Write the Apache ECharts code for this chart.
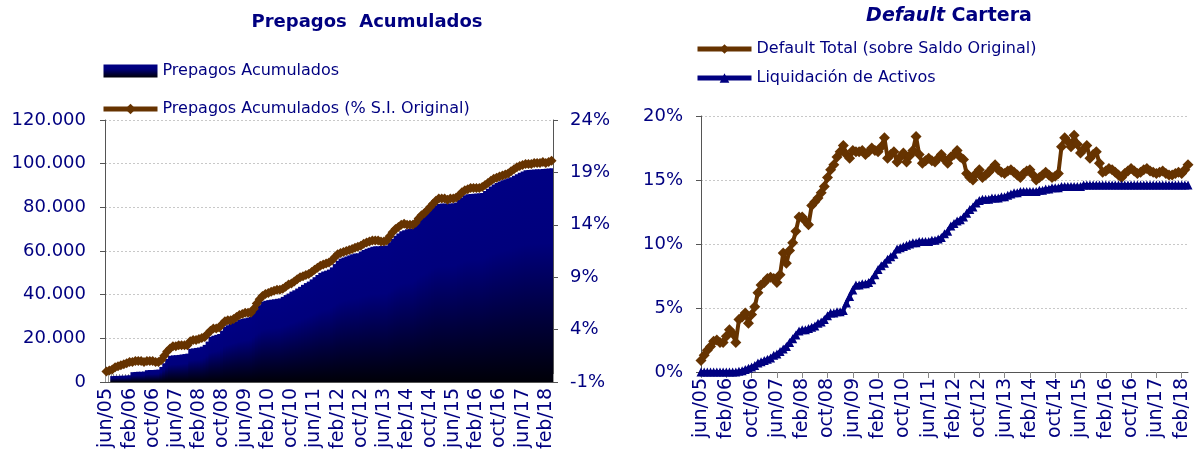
<!DOCTYPE html>
<html><head><meta charset="utf-8">
<script src="https://cdn.jsdelivr.net/npm/echarts@6/dist/echarts.min.js"></script>
<style>html,body{margin:0;padding:0;background:#fff;}#c{width:1195px;height:455px;}</style>
</head><body><div id="c"></div>
<script>
// ---- categories (monthly, jun/05 .. abr/18) ----
const monthNames = ['ene','feb','mar','abr','may','jun','jul','ago','sep','oct','nov','dic'];
const startYear = 2005, startMonth = 5, nMonths = 155;
const categories = [];
for (let i = 0; i < nMonths; i++) {
  const m = (startMonth + i) % 12;
  const y = startYear + Math.floor((startMonth + i) / 12);
  categories.push(monthNames[m] + '/' + String(y % 100).padStart(2, '0'));
}

// ---- Prepagos Acumulados (bars, left axis) ----
const prepagos = [
  0, 0, 2700, 2800, 2800, 2900, 2900, 3000, 3100, 4500,
  4600, 4700, 4700, 4800, 5400, 5500, 5500, 5600, 5700, 6900,
  8600, 10600, 12000, 12200, 12300, 12400, 12600, 12800, 13000, 15200,
  15400, 15600, 15800, 16200, 17000, 18500, 20700, 21200, 21600, 22000,
  23500, 25300, 26000, 26600, 27200, 27800, 28500, 28900, 29200, 29500,
  29900, 31500, 33600, 35200, 36800, 37200, 37500, 37700, 37900, 38100,
  38300, 39000, 39800, 40500, 41400, 42000, 42800, 43600, 44500, 45300,
  46000, 47000, 48000, 49000, 50000, 50600, 51000, 51500, 52500, 54000,
  55500, 56500, 57000, 57500, 58000, 58500, 58800, 59000, 59800, 60500,
  61000, 61500, 62000, 62200, 62200, 62300, 62400, 62500, 64000, 65500,
  67000, 68000, 69000, 69500, 70000, 70200, 70300, 71500, 73500, 75000,
  76000, 77200, 78500, 79800, 81000, 81500, 81700, 81700, 81800, 81800,
  81900, 82200, 83500, 84500, 85500, 86000, 86100, 86200, 86300, 86400,
  86600, 87500, 88500, 89500, 90500, 91200, 91800, 92400, 92900, 93300,
  93800, 94500, 95200, 95800, 96400, 97000, 97100, 97200, 97300, 97400,
  97500, 97600, 97700, 97800, 97900
];

// ---- Prepagos Acumulados (% S.I. Original), right axis ----
const prepagosPct = [
  0.0, 0.1, 0.2, 0.4, 0.5, 0.6, 0.7, 0.8, 0.9, 0.9,
  1.0, 1.0, 1.0, 0.9, 1.0, 1.0, 1.0, 0.9, 0.9, 1.1,
  1.5, 1.9, 2.2, 2.4, 2.4, 2.5, 2.5, 2.5, 2.5, 2.9,
  3.0, 3.0, 3.1, 3.2, 3.3, 3.6, 3.9, 4.1, 4.1, 4.2,
  4.5, 4.8, 4.9, 4.9, 5.0, 5.2, 5.4, 5.5, 5.6, 5.6,
  5.6, 6.0, 6.5, 6.9, 7.2, 7.4, 7.5, 7.6, 7.7, 7.8,
  7.8, 7.9, 8.1, 8.3, 8.4, 8.6, 8.8, 9.0, 9.1, 9.2,
  9.3, 9.5, 9.7, 9.9, 10.1, 10.2, 10.3, 10.4, 10.6, 10.9,
  11.2, 11.3, 11.4, 11.5, 11.6, 11.7, 11.8, 11.9, 12.0, 12.2,
  12.3, 12.4, 12.5, 12.5, 12.5, 12.4, 12.4, 12.5, 12.9, 13.3,
  13.6, 13.8, 14.0, 14.1, 14.0, 14.0, 14.0, 14.2, 14.6, 14.9,
  15.1, 15.4, 15.7, 16.0, 16.3, 16.5, 16.5, 16.5, 16.4, 16.5,
  16.5, 16.6, 16.8, 17.1, 17.3, 17.4, 17.5, 17.5, 17.5, 17.5,
  17.6, 17.8, 18.0, 18.2, 18.4, 18.5, 18.6, 18.7, 18.8, 18.9,
  19.1, 19.3, 19.5, 19.6, 19.7, 19.8, 19.8, 19.8, 19.9, 19.9,
  19.9, 20.0, 19.9, 20.0, 20.1
];

// ---- Default Total (sobre Saldo Original), % ----
const defaultTotal = [
  0.9, 1.3, 1.7, 2.0, 2.4, 2.5, 2.3, 2.3, 2.8, 3.3,
  3.0, 2.3, 4.1, 4.3, 4.6, 3.8, 4.5, 5.1, 6.2, 6.8,
  7.0, 7.3, 7.4, 7.3, 7.0, 7.6, 9.3, 8.5, 9.5, 10.1,
  11.0, 12.1, 12.1, 11.8, 11.5, 13.0, 13.3, 13.6, 14.0, 14.5,
  15.2, 15.8, 16.2, 16.8, 17.2, 17.7, 17.0, 16.7, 17.3, 17.2,
  17.2, 17.3, 17.0, 17.2, 17.5, 17.3, 17.2, 17.6, 18.3, 16.7,
  17.0, 17.2, 16.4, 16.8, 17.1, 16.4, 16.9, 17.3, 18.4, 17.0,
  16.3, 16.5, 16.7, 16.5, 16.4, 16.7, 17.0, 16.6, 16.3, 16.8,
  17.0, 17.3, 16.8, 16.6, 15.5, 15.2, 15.0, 15.5, 15.8, 15.2,
  15.4, 15.6, 15.9, 16.2, 15.8, 15.6, 15.5, 15.7, 15.8, 15.6,
  15.4, 15.2, 15.5, 15.7, 15.8, 15.4, 15.0, 15.2, 15.4, 15.6,
  15.4, 15.2, 15.3, 15.5, 17.6, 18.3, 18.0, 17.6, 18.5, 17.8,
  17.1, 17.4, 17.7, 16.7, 17.0, 17.2, 16.3, 15.6, 15.7, 15.9,
  15.8, 15.6, 15.4, 15.2, 15.5, 15.7, 15.9, 15.7, 15.5, 15.6,
  15.8, 15.9, 15.7, 15.6, 15.5, 15.6, 15.7, 15.5, 15.4, 15.4,
  15.5, 15.6, 15.5, 15.8, 16.2
];

// ---- Liquidación de Activos, % ----
const liquidacion = [
  0, 0, 0, 0, 0, 0, 0, 0, 0, 0,
  0, 0, 0.05, 0.1, 0.2, 0.3, 0.4, 0.5, 0.7, 0.8,
  0.9, 1.0, 1.1, 1.3, 1.4, 1.6, 1.8, 2.0, 2.3, 2.6,
  2.9, 3.2, 3.3, 3.3, 3.4, 3.5, 3.6, 3.8, 3.9, 4.1,
  4.4, 4.6, 4.6, 4.7, 4.7, 4.8, 5.4, 5.9, 6.4, 6.8,
  6.8, 6.9, 6.9, 7.0, 7.2, 7.6, 8.0, 8.3, 8.5, 8.8,
  9.0, 9.2, 9.6, 9.7, 9.8, 9.9, 10.0, 10.1, 10.1, 10.2,
  10.2, 10.2, 10.2, 10.3, 10.3, 10.4, 10.5, 10.8, 11.0, 11.4,
  11.6, 11.8, 11.9, 12.1, 12.4, 12.7, 12.9, 13.2, 13.4, 13.5,
  13.5, 13.5, 13.6, 13.6, 13.6, 13.7, 13.7, 13.8, 13.9, 14.0,
  14.0, 14.1, 14.1, 14.1, 14.1, 14.1, 14.1, 14.2, 14.2, 14.3,
  14.3, 14.4, 14.4, 14.4, 14.5, 14.5, 14.5, 14.5, 14.5, 14.5,
  14.5, 14.6, 14.6, 14.6, 14.6, 14.6, 14.6, 14.6, 14.6, 14.6,
  14.6, 14.6, 14.6, 14.6, 14.6, 14.6, 14.6, 14.6, 14.6, 14.6,
  14.6, 14.6, 14.6, 14.6, 14.6, 14.6, 14.6, 14.6, 14.6, 14.6,
  14.6, 14.6, 14.6, 14.6, 14.6
];

// ---- axis tick settings ----
const leftAxisTicks = { min: 0, max: 120000, interval: 20000 };
const rightAxisTicks = { min: -1, max: 24, interval: 5 };
const defaultAxisTicks = { min: 0, max: 20, interval: 5 };

const NAVY = '#000080', BROWN = '#663300', FONT = 'DejaVu Sans';
const txt = { color: NAVY, fontFamily: FONT };
const gridLine = { show: true, lineStyle: { color: '#c8c8c8', type: [2, 2], width: 1 } };
const axisLn = { show: true, lineStyle: { color: '#555', width: 1 } };
const barGradient = () => new echarts.graphic.LinearGradient(0, 0, 0, 1, [
  { offset: 0, color: '#000084' }, { offset: 0.35, color: '#00007c' },
  { offset: 0.7, color: '#00003c' }, { offset: 1, color: '#000008' }]);

const chart = echarts.init(document.getElementById('c'), null, { renderer: 'canvas' });
chart.setOption({
  animation: false,
  backgroundColor: '#fff',
  graphic: [
    { type: 'text', x: 367, y: 22, style: { text: 'Prepagos  Acumulados', fill: NAVY, font: 'bold 18px "DejaVu Sans"', align: 'center', verticalAlign: 'middle' } },
    { type: 'text', x: 949, y: 16, style: { text: '{i|Default}{b| Cartera}', align: 'center', verticalAlign: 'middle',
        rich: { i: { fill: NAVY, fontFamily: FONT, fontSize: 19, fontWeight: 'bold', fontStyle: 'italic' },
                b: { fill: NAVY, fontFamily: FONT, fontSize: 19, fontWeight: 'bold' } } } }
  ],
  legend: [
    { orient: 'vertical', left: 96, top: 58, itemWidth: 54, itemHeight: 13, itemGap: 22,
      textStyle: { ...txt, fontSize: 16 },
      data: [
        { name: 'Prepagos Acumulados', icon: 'rect' },
        { name: 'Prepagos Acumulados (% S.I. Original)', lineStyle: { width: 5 } }
      ] },
    { orient: 'vertical', left: 690, top: 36, itemWidth: 54, itemHeight: 12, itemGap: 13,
      textStyle: { ...txt, fontSize: 16 },
      data: [
        { name: 'Default Total (sobre Saldo Original)', lineStyle: { width: 5 } },
        { name: 'Liquidación de Activos', lineStyle: { width: 5 } }
      ] }
  ],
  grid: [
    { left: 105, right: 642, top: 120, bottom: 73 },
    { left: 701, right: 7, top: 116, bottom: 83 }
  ],
  xAxis: [
    { type: 'category', gridIndex: 0, data: categories, boundaryGap: true,
      axisLine: axisLn,
      axisTick: { show: true, interval: 0, inside: true, length: 8, lineStyle: { color: '#999' } },
      axisLabel: { ...txt, fontSize: 19, rotate: 90, interval: 7, margin: 6 } },
    { type: 'category', gridIndex: 1, data: categories, boundaryGap: false,
      axisLine: axisLn,
      axisTick: { show: true, interval: 7, length: 6, lineStyle: { color: '#888' } },
      axisLabel: { ...txt, fontSize: 19, rotate: 90, interval: 7, margin: 6 } }
  ],
  yAxis: [
    { type: 'value', gridIndex: 0, ...leftAxisTicks, position: 'left',
      axisLine: axisLn, axisTick: { show: true, length: 5, lineStyle: { color: '#555' } },
      splitLine: gridLine,
      axisLabel: { ...txt, fontSize: 18, margin: 19, formatter: v => v === 0 ? '0' : v.toLocaleString('de-DE') } },
    { type: 'value', gridIndex: 0, ...rightAxisTicks, position: 'right',
      axisLine: axisLn, axisTick: { show: true, length: 5, lineStyle: { color: '#555' } },
      splitLine: { show: false },
      axisLabel: { ...txt, fontSize: 18, margin: 17, formatter: v => v + '%' } },
    { type: 'value', gridIndex: 1, ...defaultAxisTicks,
      axisLine: axisLn, axisTick: { show: true, length: 5, lineStyle: { color: '#555' } },
      splitLine: gridLine,
      axisLabel: { ...txt, fontSize: 18, margin: 18, formatter: v => v + '%' } }
  ],
  series: [
    { name: 'Prepagos Acumulados', type: 'bar', xAxisIndex: 0, yAxisIndex: 0, data: prepagos,
      barWidth: 4, barGap: '-100%',
      itemStyle: { color: barGradient() } },
    { name: 'Prepagos Acumulados (% S.I. Original)', type: 'line', xAxisIndex: 0, yAxisIndex: 1, data: prepagosPct,
      symbol: 'diamond', symbolSize: 10, showAllSymbol: true,
      lineStyle: { color: BROWN, width: 5 }, itemStyle: { color: BROWN } },
    { name: 'Default Total (sobre Saldo Original)', type: 'line', xAxisIndex: 1, yAxisIndex: 2, data: defaultTotal,
      symbol: 'diamond', symbolSize: 11, showAllSymbol: true,
      lineStyle: { color: BROWN, width: 4 }, itemStyle: { color: BROWN } },
    { name: 'Liquidación de Activos', type: 'line', xAxisIndex: 1, yAxisIndex: 2, data: liquidacion,
      symbol: 'triangle', symbolSize: 9, showAllSymbol: true,
      lineStyle: { color: NAVY, width: 4 }, itemStyle: { color: NAVY } }
  ]
});
</script></body></html>
